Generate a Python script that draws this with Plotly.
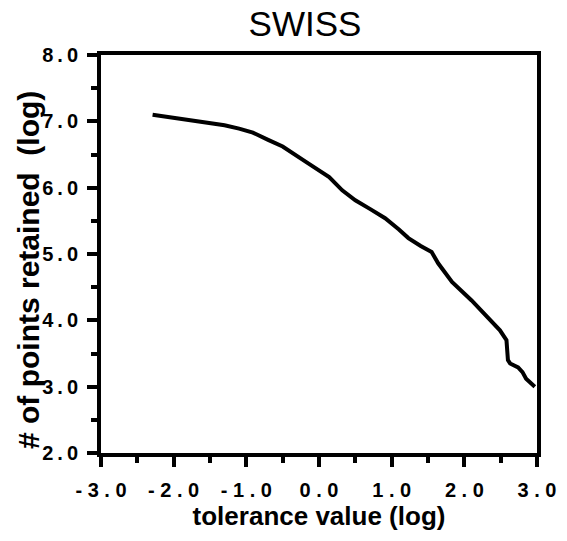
from plotly import graph_objects as go

# tolerance (log) vs number of points retained (log)
tolerance = [-2.29, -1.95, -1.60, -1.30, -1.10, -0.91, -0.70, -0.50, -0.18, 0.14,
             0.32, 0.50, 0.70, 0.91, 1.10, 1.23, 1.40, 1.55, 1.64, 1.83,
             2.10, 2.33, 2.49, 2.58, 2.60, 2.63, 2.74, 2.80, 2.85, 2.97]
points_retained = [7.10, 7.05, 6.99, 6.94, 6.89, 6.83, 6.72, 6.62, 6.39, 6.16,
                   5.96, 5.81, 5.68, 5.54, 5.37, 5.24, 5.12, 5.03, 4.86, 4.58,
                   4.30, 4.03, 3.85, 3.70, 3.40, 3.35, 3.29, 3.22, 3.12, 3.00]

x_tickvals = [-3, -2, -1, 0, 1, 2, 3]
x_ticktext = ["-3.0", "-2.0", "-1.0", "0.0", "1.0", "2.0", "3.0"]
y_tickvals = [2, 3, 4, 5, 6, 7, 8]
y_ticktext = ["2.0", "3.0", "4.0", "5.0", "6.0", "7.0", "8.0"]

font_family = "Liberation Sans, Arial, sans-serif"
THIN = "\u2009"

W, H = 567, 541
L, R, T, B = 101, 30, 55, 88
plot_w, plot_h = W - L - R, H - T - B


def spaced_x(label):
    # the old typesetting is very wide, so put air between the characters
    return " ".join(label)


def spaced_y(label):
    return THIN.join(label)


fig = go.Figure()
fig.add_trace(go.Scatter(x=tolerance, y=points_retained, mode="lines",
                         line=dict(color="black", width=4), showlegend=False))

axis_style = dict(showline=True, linecolor="black", linewidth=4, mirror=True,
                  showgrid=False, zeroline=False, ticks="outside", ticklen=10,
                  tickwidth=3.5, tickcolor="black", automargin=False,
                  tickfont=dict(family=font_family, size=20, color="black",
                                weight="bold"))
minor_style = dict(ticks="outside", dtick=0.5, ticklen=6, tickwidth=3.5,
                   tickcolor="black", showgrid=False)

fig.update_xaxes(range=[-3, 3], tickvals=x_tickvals,
                 ticktext=[spaced_x(t) for t in x_ticktext], minor=minor_style,
                 ticklabelstandoff=6,
                 title=dict(text="tolerance value (log)", standoff=5,
                            font=dict(family=font_family, size=26, color="black",
                                      weight="bold")),
                 **axis_style)
fig.update_yaxes(range=[2, 8], tickvals=y_tickvals,
                 ticktext=[spaced_y(t) for t in y_ticktext], minor=minor_style,
                 ticklabelstandoff=5,
                 **axis_style)

fig.add_annotation(text="# of points retained  (log)", textangle=-90,
                   xref="paper", yref="paper", x=(28 - L) / plot_w,
                   y=(T + plot_h - 270) / plot_h, xanchor="center", yanchor="middle",
                   showarrow=False,
                   font=dict(family=font_family, size=30, color="black",
                             weight="bold"))

fig.update_layout(
    width=W, height=H,
    margin=dict(l=L, r=R, t=T, b=B, autoexpand=False),
    paper_bgcolor="white", plot_bgcolor="white",
    title=dict(text="SWISS", x=305 / W, xanchor="center", y=1 - 24 / H,
               yanchor="middle", font=dict(family=font_family, size=35, color="black")),
    font=dict(family=font_family, color="black"),
)

# drop the browser's default 8px body margin so the figure sits at the page corner
fig.write_html("out.html", config={"displayModeBar": False},
               post_script="document.body.style.margin = '0';")
